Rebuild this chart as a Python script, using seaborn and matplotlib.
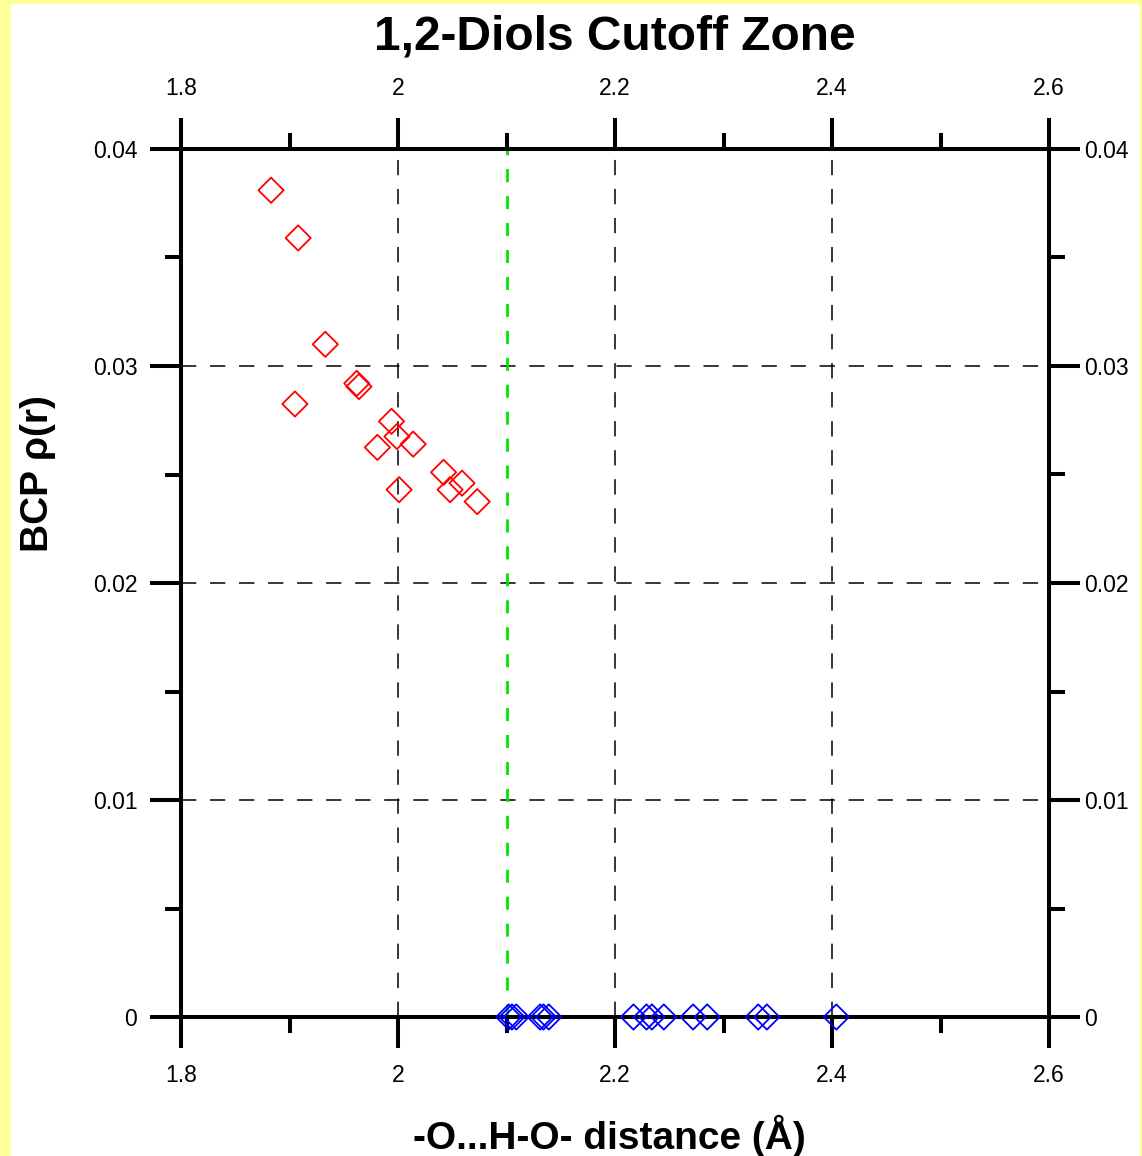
import numpy as np
import pandas as pd
import matplotlib
matplotlib.use("Agg")
import matplotlib.pyplot as plt
import seaborn as sns
from matplotlib.patches import Rectangle

# ---------------- data ----------------
title = "1,2-Diols Cutoff Zone"
x_label = "-O...H-O- distance (Å)"
y_label = "BCP ρ(r)"

bonded_dist = [1.883, 1.908, 1.933, 1.905, 1.962, 1.964, 1.994, 1.999,
               1.981, 2.014, 2.001, 2.042, 2.059, 2.048, 2.073]
bonded_rho = [0.0381, 0.0359, 0.0310, 0.02825, 0.0292, 0.02905, 0.02745,
              0.02675, 0.02625, 0.0264, 0.0243, 0.0251, 0.0246, 0.0243, 0.02375]

nonbonded_dist = [2.102, 2.105, 2.109, 2.131, 2.134, 2.139, 2.217, 2.229,
                  2.234, 2.245, 2.272, 2.285, 2.332, 2.340, 2.404]
nonbonded_rho = [0.0, 0.0, 0.0, 0.0, 0.0, 0.0, 0.0, 0.0,
                 0.0, 0.0, 0.0, 0.0, 0.0, 0.0, 0.0]

cutoff = 2.1

x_ticks = [1.8, 2.0, 2.2, 2.4, 2.6]
x_tick_labels = ["1.8", "2", "2.2", "2.4", "2.6"]
x_minor = [1.9, 2.1, 2.3, 2.5]
y_ticks = [0.0, 0.01, 0.02, 0.03, 0.04]
y_tick_labels = ["0", "0.01", "0.02", "0.03", "0.04"]
y_minor = [0.005, 0.015, 0.025, 0.035]

# ---------------- style ----------------
sns.set_style("ticks")
plt.rcParams["font.family"] = ["Liberation Sans", "DejaVu Sans"]
plt.rcParams["text.color"] = "black"
plt.rcParams["axes.labelcolor"] = "black"
plt.rcParams["xtick.color"] = "black"
plt.rcParams["ytick.color"] = "black"
plt.rcParams["axes.edgecolor"] = "black"

W, H = 1142, 1156
fig = plt.figure(figsize=(W / 100, H / 100), dpi=100, facecolor="#FFFF99")
fig.add_artist(Rectangle((11 / W, 0), (1140 - 11) / W, (H - 4) / H,
                         transform=fig.transFigure, facecolor="white",
                         edgecolor="none", zorder=-10))

L, R, T, B = 181, 1049, 149, 1017
ax = fig.add_axes([L / W, 1 - B / H, (R - L) / W, (B - T) / H])
ax.set_facecolor("white")

df_b = pd.DataFrame({"dist": bonded_dist, "rho": bonded_rho})
df_n = pd.DataFrame({"dist": nonbonded_dist, "rho": nonbonded_rho})

sns.scatterplot(data=df_b, x="dist", y="rho", marker="D", s=165, ax=ax,
                linewidth=1.3, zorder=5, clip_on=False, legend=False)
pts = ax.collections[-1]
pts.set_facecolor("none")
pts.set_edgecolor("#FF0000")

sns.scatterplot(data=df_n, x="dist", y="rho", marker="D", s=165, ax=ax,
                linewidth=1.3, zorder=5, clip_on=False, legend=False)
pts = ax.collections[-1]
pts.set_facecolor("none")
pts.set_edgecolor("#0000FF")

ax.axvline(cutoff, color="#00E600", lw=2.0, ls=(0, (4.7, 5.0)), zorder=3)

ax.set_xlim(1.8, 2.6)
ax.set_ylim(0, 0.04)
ax.set_xticks(x_ticks, x_tick_labels)
ax.set_xticks(x_minor, minor=True)
ax.set_yticks(y_ticks, y_tick_labels)
ax.set_yticks(y_minor, minor=True)
ax.set_xlabel("")
ax.set_ylabel("")

ax.set_axisbelow(True)
ax.grid(True, which="major", color="black", lw=1.1, ls=(0, (10, 9)))

for sp in ax.spines.values():
    sp.set_visible(True)
    sp.set_linewidth(2.9)
    sp.set_color("black")
    sp.set_zorder(4)

lw = 2.9
fs = 16.5
ax.tick_params(which="major", direction="out", length=22, width=lw,
               labelsize=fs, colors="black", top=False, right=False,
               bottom=True, left=True)
ax.tick_params(which="minor", direction="out", length=11.5, width=lw,
               colors="black", top=False, right=False, bottom=True, left=True)
ax.tick_params(axis="x", which="major", pad=12)
ax.tick_params(axis="y", which="major", pad=9.5)

# right axis labels/ticks
ax_r = ax.twinx()
ax_r.set_ylim(0, 0.04)
ax_r.set_yticks(y_ticks, y_tick_labels)
ax_r.set_yticks(y_minor, minor=True)
ax_r.tick_params(which="major", direction="out", length=22, width=lw,
                 labelsize=fs, pad=3.5, right=True, left=False, colors="black")
ax_r.tick_params(which="minor", direction="out", length=11.5, width=lw,
                 right=True, left=False, colors="black")
ax_r.grid(False)

# top axis labels/ticks
ax_t = ax.twiny()
ax_t.set_xlim(1.8, 2.6)
ax_t.set_xticks(x_ticks, x_tick_labels)
ax_t.set_xticks(x_minor, minor=True)
ax_t.tick_params(which="major", direction="out", length=22, width=lw,
                 labelsize=fs, pad=13, top=True, bottom=False, colors="black")
ax_t.tick_params(which="minor", direction="out", length=11.5, width=lw,
                 top=True, bottom=False, colors="black")
ax_t.grid(False)

for a in (ax_r, ax_t):
    for sp in a.spines.values():
        sp.set_visible(False)

fig.text(615 / W, 1 - 37 / H, title, ha="center", va="center",
         fontsize=34.5, fontweight="bold", color="black")
fig.text(609 / W, 1 - 1136 / H, x_label, ha="center", va="center",
         fontsize=28, fontweight="bold", color="black")
fig.text(38 / W, 1 - 474 / H, y_label, ha="center", va="center",
         rotation=90, fontsize=28, fontweight="bold", color="black")

fig.savefig("out.png", dpi=100, facecolor=fig.get_facecolor())
